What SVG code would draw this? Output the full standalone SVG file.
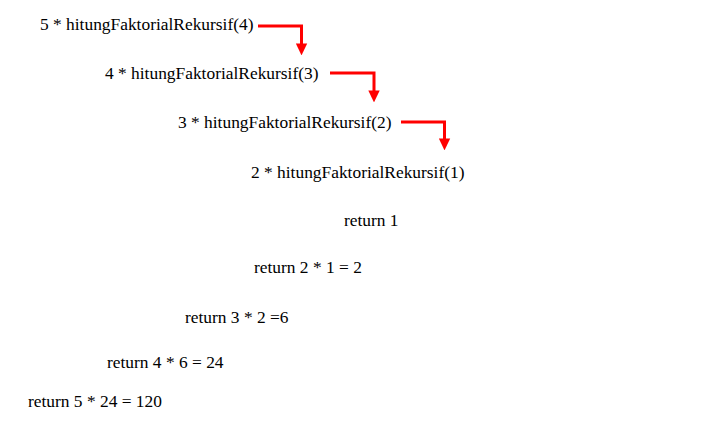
<svg xmlns="http://www.w3.org/2000/svg" width="703" height="430" viewBox="0 0 703 430">
<style>
text{font-family:"Liberation Serif","Times New Roman",serif;font-size:17.4px;fill:#000}
.c{fill:none;stroke:#ff0000;stroke-width:3}
</style>
<defs>
<marker id="ah" markerWidth="4" markerHeight="4" refX="2.2" refY="2" orient="auto" markerUnits="strokeWidth"><path d="M0,0.1 L4,2 L0,3.9 Z" fill="#ff0000"/></marker>
</defs>
<rect width="703" height="430" fill="#fff"/>
<g id="n1"><text x="40" y="29.5">5 * hitungFaktorialRekursif(4)</text></g>
<g id="n2"><text x="105" y="78.5">4 * hitungFaktorialRekursif(3)</text></g>
<g id="n3"><text x="178" y="128">3 * hitungFaktorialRekursif(2)</text></g>
<g id="n4"><text x="251" y="177.5">2 * hitungFaktorialRekursif(1)</text></g>
<g id="r1"><text x="344" y="225.5">return 1</text></g>
<g id="r2"><text x="254" y="272.5">return 2 * 1 = 2</text></g>
<g id="r3"><text x="185" y="322.5">return 3 * 2 =6</text></g>
<g id="r4"><text x="107" y="368">return 4 * 6 = 24</text></g>
<g id="r5"><text x="28" y="406.5">return 5 * 24 = 120</text></g>
<g id="connectors">
<path class="c" d="M258,26 H301.5 V50" marker-end="url(#ah)"/>
<path class="c" d="M330,73 H374 V97" marker-end="url(#ah)"/>
<path class="c" d="M401,122 H444.5 V145" marker-end="url(#ah)"/>
</g>
</svg>
